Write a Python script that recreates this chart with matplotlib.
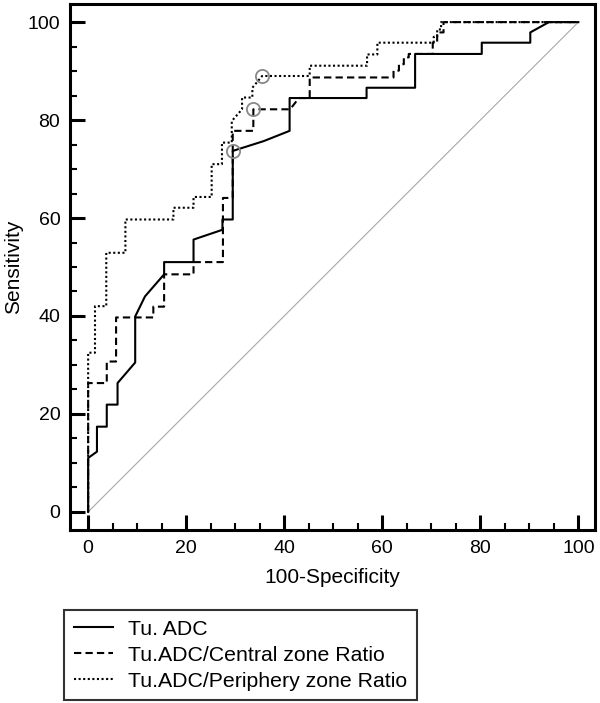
import matplotlib
matplotlib.use("Agg")
import matplotlib.pyplot as plt
from matplotlib.ticker import MultipleLocator
from matplotlib.lines import Line2D

plt.rcParams['font.family'] = ['Liberation Sans', 'DejaVu Sans']

# ROC curves (x = 100-Specificity, y = Sensitivity)
adc_x = [0, 0, 1.8, 1.8, 3.8, 3.8, 6.0, 6.0, 9.6, 9.6, 11.6, 15.5, 15.5, 21.5, 21.5,
         27.4, 27.4, 29.5, 29.5, 35.8, 41.1, 41.1, 56.8, 56.8, 66.7, 66.7, 80.3,
         80.3, 90.2, 90.2, 94.0, 100]
adc_y = [0, 11.0, 12.3, 17.4, 17.4, 21.9, 21.9, 26.3, 30.5, 39.9, 44.0, 48.5, 51.0,
         51.0, 55.6, 57.6, 59.7, 59.7, 73.7, 75.7, 77.8, 84.5, 84.5, 86.6, 86.6,
         93.5, 93.5, 95.8, 95.8, 97.9, 100, 100]

central_x = [0, 0, 3.8, 3.8, 5.7, 5.7, 13.3, 13.3, 15.5, 15.5, 21.5, 21.5, 27.5, 27.5,
             29.5, 29.5, 33.7, 33.7, 41.2, 43.0, 45.2, 45.2, 62.3, 62.3, 63.4, 63.4,
             64.4, 64.4, 65.4, 65.4, 70.3, 70.3, 71.2, 71.2, 72.5, 72.5, 100]
central_y = [0, 26.3, 26.3, 30.7, 30.7, 39.7, 39.7, 41.9, 41.9, 48.5, 48.5, 51.0, 51.0,
             64.1, 64.1, 77.8, 77.8, 82.2, 82.2, 84.5, 84.5, 88.7, 88.7, 90.1, 90.1,
             91.4, 91.4, 92.8, 92.8, 93.5, 93.5, 95.8, 95.8, 97.9, 97.9, 100, 100]

periph_x = [0, 0, 1.4, 1.4, 3.7, 3.7, 7.6, 7.6, 17.4, 17.4, 21.5, 21.5, 25.2, 25.2,
            27.3, 27.3, 29.3, 29.3, 31.4, 31.4, 33.5, 33.5, 35.5, 45.2, 45.2, 56.9,
            56.9, 59.0, 59.0, 70.5, 70.5, 71.2, 71.2, 72.0, 72.0, 100]
periph_y = [0, 32.5, 32.5, 42.0, 42.0, 52.9, 52.9, 59.7, 59.7, 62.1, 62.1, 64.3, 64.3,
            71.0, 71.0, 75.4, 75.4, 79.8, 82.2, 84.6, 84.6, 86.6, 89.0, 89.0, 91.1,
            91.1, 93.4, 93.4, 95.8, 95.8, 97.0, 97.0, 98.5, 98.5, 100, 100]

# optimal cut-off points (open circles)
cut_x = [29.5, 33.7, 35.5]
cut_y = [73.7, 82.2, 89.0]

labels = ["Tu. ADC", "Tu.ADC/Central zone Ratio", "Tu.ADC/Periphery zone Ratio"]

fig = plt.figure(figsize=(6, 7.03), dpi=100)
ax = fig.add_axes([70 / 600, 1 - 530 / 703, 525 / 600, 526 / 703])

ax.plot([0, 100], [0, 100], color='#a8a8a8', lw=0.8, zorder=1)
ax.plot(adc_x, adc_y, color='black', lw=1.5, ls='-', zorder=3)
ax.plot(central_x, central_y, color='black', lw=1.5, ls=(0, (3.5, 2)), zorder=3)
ax.plot(periph_x, periph_y, color='black', lw=1.5, ls=(0, (1, 1.2)), zorder=3)
ax.plot(cut_x, cut_y, 'o', mfc='none', mec='#888888', mew=1.3, ms=9.5, zorder=4)

ax.set_xlim(-3.7, 103.4)
ax.set_ylim(-3.7, 103.7)
ax.xaxis.set_major_locator(MultipleLocator(20))
ax.xaxis.set_minor_locator(MultipleLocator(5))
ax.yaxis.set_major_locator(MultipleLocator(20))
ax.yaxis.set_minor_locator(MultipleLocator(5))
ax.tick_params(which='major', direction='in', length=11, width=2.2, labelsize=14, pad=7,
               top=False, right=False)
ax.tick_params(which='minor', direction='in', length=5, width=1.5, top=False, right=False)
for s in ax.spines.values():
    s.set_linewidth(2.2)

ax.set_xlabel("100-Specificity", fontsize=15)
ax.set_ylabel("Sensitivity", fontsize=15, va='center')
ax.xaxis.set_label_coords(0.5, -0.072)
ax.yaxis.set_label_coords(-0.107, 0.5)

handles = [Line2D([], [], color='black', lw=1.5, ls='-'),
           Line2D([], [], color='black', lw=1.5, ls=(0, (3.5, 2))),
           Line2D([], [], color='black', lw=1.5, ls=(0, (1, 1.2)))]
leg = fig.legend(handles, labels, loc='upper left', bbox_to_anchor=(64 / 600, 1 - 610 / 703),
                 fontsize=15.3, frameon=True, fancybox=False, edgecolor='black',
                 borderpad=0.45, labelspacing=0.33, handlelength=1.87, handletextpad=0.7,
                 borderaxespad=0)
leg.get_frame().set_linewidth(1.5)

fig.savefig("out.png", dpi=100)
